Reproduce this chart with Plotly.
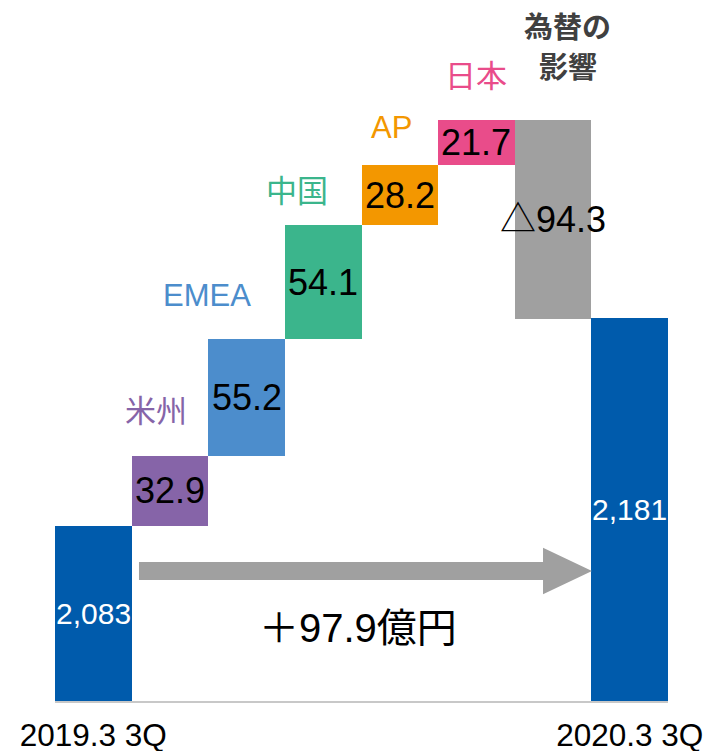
import plotly.graph_objects as go

# ---- data ----
categories = ["2019.3 3Q", "米州", "EMEA", "中国", "AP", "日本", "為替の影響", "2020.3 3Q"]
kinds = ["total", "delta", "delta", "delta", "delta", "delta", "delta", "total"]
start_total = 2083
deltas = [32.9, 55.2, 54.1, 28.2, 21.7, -94.3]
end_total = 2181
value_labels = ["2,083", "32.9", "55.2", "54.1", "28.2", "21.7", "△94.3", "2,181"]
tick_labels = ["2019.3 3Q", "2020.3 3Q"]
fx_label_lines = ["為替の", "影響"]
change_label = "＋97.9億円"

# ---- styles ----
colors = ["#005BAC", "#8664A8", "#4C8DCC", "#3BB58C", "#F39700", "#E94C8A", "#A0A0A0", "#005BAC"]
cat_label_colors = [None, "#8664A8", "#4C8DCC", "#3BB58C", "#F39700", "#E94C8A", "#404040", None]
cat_label_dx = [0, -0.18, -0.52, -0.34, -0.115, 0.0, 0.19, 0]
cat_label_dy = [0, 22.3, 21.0, 17.5, 18.2, 21.6, 0, 0]
Y_MIN, Y_MAX = 2000, 2331.7
LATIN = "Liberation Sans, Arial, Noto Sans CJK JP"
CJK = "Noto Sans CJK JP, Liberation Sans"

# ---- build bases/heights ----
x = list(range(len(categories)))
bases, heights = [], []
running = start_total
bases.append(0); heights.append(start_total)
for d in deltas:
    if d >= 0:
        bases.append(running); heights.append(d)
    else:
        bases.append(running + d); heights.append(-d)
    running += d
bases.append(0); heights.append(end_total)

fig = go.Figure(go.Bar(
    x=x, y=heights, base=bases, width=1,
    marker=dict(color=colors, line=dict(width=0)),
    hoverinfo="skip",
))

annotations = []
for i in x:
    lo = max(bases[i], Y_MIN)
    hi = bases[i] + heights[i]
    is_total = kinds[i] == "total"
    annotations.append(dict(
        x=i, y=(lo + hi) / 2, xref="x", yref="y", text=value_labels[i],
        showarrow=False,
        font=dict(family=LATIN, size=30 if is_total else 36,
                  color="white" if is_total else "black"),
    ))
    if not is_total and i != 6:
        annotations.append(dict(
            x=i + cat_label_dx[i], y=hi + cat_label_dy[i],
            xref="x", yref="y", text=categories[i], showarrow=False,
            font=dict(family=CJK if i not in (2, 4) else LATIN,
                      size=31, color=cat_label_colors[i]),
        ))

# FX effect label (two lines, bold)
for k, (line, py) in enumerate(zip(fx_label_lines, [25, 65])):
    annotations.append(dict(
        x=6 + cat_label_dx[6], y=1 - py / 701, xref="x", yref="paper",
        text=f"<b>{line}</b>", showarrow=False, yanchor="middle", height=38,
        font=dict(family=CJK, size=29, color=cat_label_colors[6]),
    ))

# change label under arrow
annotations.append(dict(
    x=(x[0] + x[-1]) / 2 - 0.04, y=2034.5, xref="x", yref="y", text=change_label,
    showarrow=False, font=dict(family=LATIN, size=40, color="black"),
))

# arrow shape (from first total toward last total)
ax0, axh, axt = x[0] + 0.596, x[-1] - 1.131, x[-1] - 0.492
ym, sh, hh = 2061.5, 4.3, 11.0
path = (f"M{ax0},{ym+sh} L{axh},{ym+sh} L{axh},{ym+hh} L{axt},{ym} "
        f"L{axh},{ym-hh} L{axh},{ym-sh} L{ax0},{ym-sh} Z")

fig.update_layout(
    width=706, height=751,
    margin=dict(l=55, r=38, t=0, b=50),
    paper_bgcolor="white", plot_bgcolor="white",
    bargap=0, showlegend=False,
    annotations=annotations,
    shapes=[dict(type="path", path=path, xref="x", yref="y",
                 fillcolor="#A0A0A0", line=dict(width=0), layer="above")],
    xaxis=dict(range=[-0.5, 7.5], tickvals=[x[0], x[-1]], ticktext=tick_labels,
               showline=True, linecolor="#C8C8C8", linewidth=1.5,
               showgrid=False, zeroline=False, ticks="",
               ticklabelstandoff=5, automargin=False,
               tickfont=dict(family=LATIN, size=31.5, color="black"),
               fixedrange=True),
    yaxis=dict(range=[Y_MIN, Y_MAX], visible=False, fixedrange=True),
)

fig.write_html("out.html")
